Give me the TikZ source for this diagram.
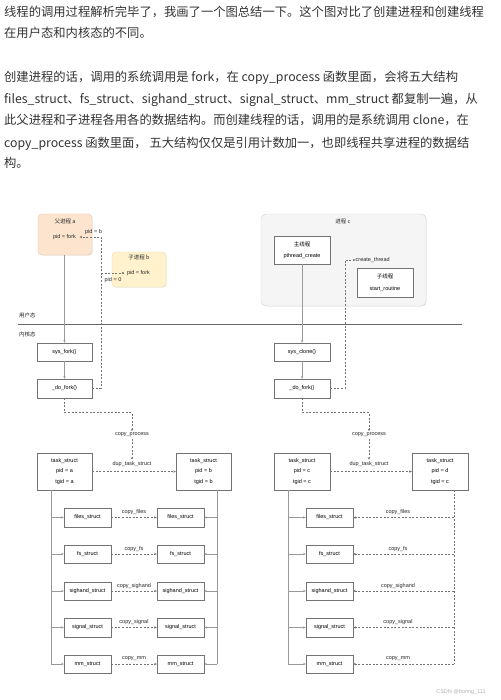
\documentclass[tikz,border=0pt]{standalone}
\usepackage{fontspec}
\setmainfont{Liberation Sans}
\newfontfamily\cjk{Noto Sans CJK SC}
\usetikzlibrary{arrows.meta,shadows,calc}
\definecolor{parentfill}{RGB}{252,228,206}
\definecolor{parentdraw}{RGB}{235,200,170}
\definecolor{childfill}{RGB}{255,242,204}
\definecolor{childdraw}{RGB}{238,220,170}
\definecolor{procfill}{RGB}{245,245,245}
\definecolor{procdraw}{RGB}{214,214,214}
\definecolor{hdrcol}{RGB}{51,51,51}
\begin{document}
\begin{tikzpicture}[x=1pt,y=-1pt,
  hdr/.style={anchor=base west, inner sep=0pt, text=hdrcol, font=\cjk\fontsize{12.3}{14}\selectfont},
  box/.style={draw=black!55, line width=0.45pt, fill=white, align=center, inner sep=0pt,
    font=\fontsize{5.5}{10.5}\selectfont,
    drop shadow={shadow xshift=0.7pt, shadow yshift=-0.7pt, opacity=0.18}},
  sbox/.style={box, minimum width=47, minimum height=18.5},
  tbox/.style={box, minimum width=55, minimum height=37},
  txt/.style={inner sep=0pt, text=black!85, font=\fontsize{5.5}{7}\selectfont},
  lbl/.style={inner sep=1.5pt, text=black!85, font=\fontsize{5.5}{7}\selectfont},
  sline/.style={draw=black!40, line width=0.5pt},
  dline/.style={draw=black!55, line width=0.5pt, dash pattern=on 2pt off 1.6pt},
  arr/.style={-{Stealth[length=2.6pt,width=2.4pt]}}
]
\useasboundingbox (0,0) rectangle (500,700);
\fill[white] (0,0) rectangle (500,700);

% ---------------- header text ----------------
\node[hdr] (h1) at (4,16.8) {线程的调用过程解析完毕了，我画了一个图总结一下。这个图对比了创建进程和创建线程};
\node[hdr] (h2) at (4,38) {在用户态和内核态的不同。};
\node[hdr] (h3) at (4,82) {创建进程的话，调用的系统调用是 fork，在 copy\_process 函数里面，会将五大结构};
\node[hdr] (h4) at (4,104) {files\_struct、fs\_struct、sighand\_struct、signal\_struct、mm\_struct 都复制一遍，从};
\node[hdr] (h5) at (4,125) {此父进程和子进程各用各的数据结构。而创建线程的话，调用的是系统调用 clone，在};
\node[hdr] (h6) at (4,147.5) {copy\_process 函数里面， 五大结构仅仅是引用计数加一，也即线程共享进程的数据结};
\node[hdr] (h7) at (4,168) {构。};

% ---------------- user / kernel separator ----------------
\node[txt, anchor=west] (user) at (19,315) {\cjk 用户态};
\node[txt, anchor=west] (kern) at (19,334) {\cjk 内核态};
\coordinate (sepL) at (18,324);
\coordinate (sepR) at (462,324);
\draw[black!60, line width=0.6pt] (sepL) -- (sepR);

% ================= process side =================
\node[box, rounded corners=4pt, fill=parentfill, draw=parentdraw, minimum width=54, minimum height=41] (pa) at (65,234.5) {};
\node[txt] (pat) at (65,221) {\cjk 父进程 a};
\node[txt] (paf) at (64.5,237) {pid = fork};
\node[box, rounded corners=4pt, fill=childfill, draw=childdraw, minimum width=54, minimum height=35] (cb) at (139,269.5) {};
\node[txt] (cbt) at (139,257) {\cjk 子进程 b};
\node[txt] (cbf) at (138.5,273) {pid = fork};

\node[box, minimum width=55, minimum height=18] (sf) at (64.5,352) {sys\_fork()};
\node[box, minimum width=55, minimum height=19] (df1) at (64.5,388.5) {\_do\_fork()};

\coordinate (jA) at (101,237);
\coordinate (jB) at (101,273);
\coordinate (jC) at (101,388.5);

\draw[sline, arr] (sf.north |- pa.south) -- (sf.north);
\draw[sline, arr] (sf.south) -- (df1.north);
\draw[dline, arr] (df1.east) -- (jC) -- (jA) -- ($(paf.east)+(3.5,0)$);
\draw[dline, arr] (jB) -- ($(cbf.west)+(-2.5,0)$);
\node[txt] (lpb) at (93.5,232) {pid = b};
\node[txt] (lp0) at (113,280) {pid = 0};

\node[lbl] (cp1) at (132,435) {copy\_process};
\node[lbl] (dt1) at (132,464) {dup\_task\_struct};
\draw[dline, arr] (df1.south) -- ++(0,14.5) -| (cp1.north);
\draw[dline, arr] (cp1.south) -- (dt1.north);

\node[tbox] (tL1) at (64.5,471.5) {task\_struct\\pid = a\\tgid = a};
\node[tbox] (tR1) at (203.5,471.5) {task\_struct\\pid = b\\tgid = b};
\draw[dline, arr] (tL1.east) -- (tR1.west);

\coordinate (trL1) at (51,664);
\coordinate (trR1) at (217,664);
\draw[sline] (tL1.south -| trL1) -- (trL1);
\draw[sline] (tR1.south -| trR1) -- (trR1);

\foreach \n/\yy/\s/\c in {1/517.5/files\_struct/copy\_files,
                          2/554/fs\_struct/copy\_fs,
                          3/591/sighand\_struct/copy\_sighand,
                          4/627.5/signal\_struct/copy\_signal,
                          5/664/mm\_struct/copy\_mm}{
  \node[sbox] (aL\n) at (87.5,\yy) {\s};
  \node[sbox] (aR\n) at (180.5,\yy) {\s};
  \draw[sline, arr] (trL1 |- aL\n.west) -- (aL\n.west);
  \draw[sline, arr] (trR1 |- aR\n.east) -- (aR\n.east);
  \draw[dline, arr] (aL\n.east) -- (aR\n.west);
  \node[txt] (cA\n) at (134,\yy-5) {\c};
}

% ================= thread side =================
\node[box, rounded corners=5pt, fill=procfill, draw=procdraw, minimum width=165, minimum height=92] (pc) at (343.5,260) {};
\node[txt] (pct) at (343,221) {\cjk 进程 c};
\node[box, minimum width=56, minimum height=28, font=\fontsize{5.5}{11}\selectfont] (mt) at (302,250) {{\cjk 主线程}\\pthread\_create};
\node[box, minimum width=56, minimum height=29, font=\fontsize{5.5}{12}\selectfont] (ct) at (385,282.5) {{\cjk 子线程}\\start\_routine};

\node[box, minimum width=56, minimum height=18] (sc) at (302,352) {sys\_clone()};
\node[box, minimum width=56, minimum height=19] (df2) at (302,388.5) {\_do\_fork()};

\coordinate (kA) at (345,260);
\coordinate (kC) at (345,388.5);
\node[txt, anchor=west] (crt) at (355.5,260) {create\_thread};

\draw[sline, arr] (mt.south) -- (sc.north);
\draw[sline, arr] (sc.south) -- (df2.north);
\draw[dline, arr] (df2.east) -- (kC) -- (kA) -- (crt.west);

\node[lbl] (cp2) at (369,435) {copy\_process};
\node[lbl] (dt2) at (369,464) {dup\_task\_struct};
\draw[dline, arr] (df2.south) -- ++(0,14.5) -| (cp2.north);
\draw[dline, arr] (cp2.south) -- (dt2.north);

\node[tbox, minimum width=56] (tL2) at (302,471.5) {task\_struct\\pid = c\\tgid = c};
\node[tbox, minimum width=56] (tR2) at (440,471.5) {task\_struct\\pid = d\\tgid = c};
\draw[dline, arr] (tL2.east) -- (tR2.west);

\coordinate (trL2) at (288,664);
\coordinate (trR2) at (454,664);
\draw[sline] (tL2.south -| trL2) -- (trL2);
\draw[dline] (tR2.south -| trR2) -- (trR2);

\foreach \n/\yy/\s/\c in {1/517.5/files\_struct/copy\_files,
                          2/554/fs\_struct/copy\_fs,
                          3/591/sighand\_struct/copy\_sighand,
                          4/627.5/signal\_struct/copy\_signal,
                          5/664/mm\_struct/copy\_mm}{
  \node[sbox] (bL\n) at (329.5,\yy) {\s};
  \draw[sline, arr] (trL2 |- bL\n.west) -- (bL\n.west);
  \draw[dline, arr] (trR2 |- bL\n.east) -- (bL\n.east);
  \node[txt] (cB\n) at (398,\yy-5) {\c};
}

% watermark
\node[inner sep=0pt, text=black!30, font=\fontsize{5.5}{6}\selectfont] (wm) at (461,692) {CSDN @boring\_111};
\end{tikzpicture}
\end{document}
